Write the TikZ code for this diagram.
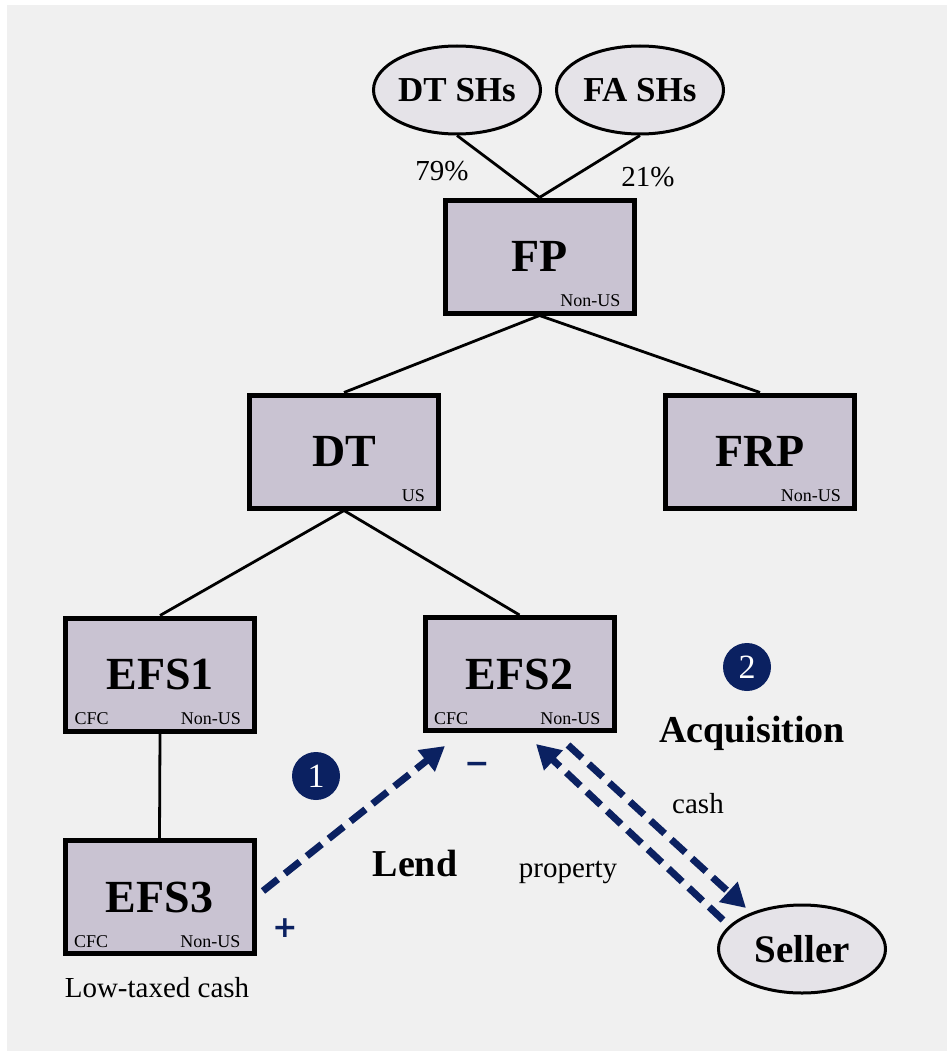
\documentclass[tikz,border=0pt]{standalone}
\usepackage{fontspec}
\setmainfont{Liberation Serif}
\newfontfamily\signfont{DejaVu Sans}
\usetikzlibrary{shapes.geometric,arrows.meta}
\definecolor{bg}{HTML}{F0F0F0}
\definecolor{boxfill}{HTML}{C9C3D2}
\definecolor{ovalfill}{HTML}{E5E3E8}
\definecolor{navy}{HTML}{0B2161}
\begin{document}
\begin{tikzpicture}[x=1pt,y=-1pt,
  entity/.style={draw=black,line width=5pt,fill=boxfill,minimum width=189pt,
    minimum height=113pt,inner sep=0pt,font=\fontsize{46}{50}\selectfont\bfseries},
  holder/.style={ellipse,draw=black,line width=3pt,fill=ovalfill,minimum width=167pt,
    minimum height=88pt,inner sep=0pt,font=\fontsize{35}{38}\selectfont\bfseries},
  tag/.style={font=\fontsize{18}{20}\selectfont,inner sep=0pt},
  link/.style={line width=2.8pt,draw=black},
  flow/.style={draw=navy,line width=7pt,dash pattern=on 19pt off 9pt,
    -{Triangle[length=24pt,width=26pt]}},
  badge/.style={circle,fill=navy,minimum size=48pt,inner sep=0pt,text=white,
    font=\fontsize{34}{36}\selectfont},
  note/.style={font=\fontsize{29}{32}\selectfont,inner sep=0pt,anchor=base},
  bignote/.style={font=\fontsize{38}{40}\selectfont\bfseries,inner sep=0pt,anchor=base},
  sign/.style={text=navy,font=\signfont\bfseries\fontsize{30}{32}\selectfont,inner sep=0pt}
]
% canvas
\useasboundingbox (0,0) rectangle (947,1051);
\fill[bg] (7,5) rectangle (947,1051);

% shareholders
\node[holder] (dtsh) at (457,90) {DT SHs};
\node[holder] (fash) at (640,90) {FA SHs};

% entities
\node[entity] (fp)   at (539.5,256.5) {FP};
\node[entity] (dt)   at (344,451.5)   {DT};
\node[entity] (frp)  at (760,451.5)   {FRP};
\node[entity] (efs1) at (160,674.5)   {EFS1};
\node[entity] (efs2) at (519.5,674)   {EFS2};
\node[entity] (efs3) at (159.5,897)   {EFS3};
\node[holder,font=\fontsize{39}{42}\selectfont\bfseries] (seller) at (802,949) {Seller};

% jurisdiction tags
\node[tag,anchor=base east] (fptag)  at ([xshift=-16pt,yshift=9pt]fp.south east)  {Non-US};
\node[tag,anchor=base east] (dttag)  at ([xshift=-16pt,yshift=9pt]dt.south east)  {US};
\node[tag,anchor=base east] (frptag) at ([xshift=-16pt,yshift=9pt]frp.south east) {Non-US};
\node[tag,anchor=base east] (e1tag)  at ([xshift=-16pt,yshift=9pt]efs1.south east) {Non-US};
\node[tag,anchor=base west] (e1cfc)  at ([xshift=11.5pt,yshift=9pt]efs1.south west) {CFC};
\node[tag,anchor=base east] (e2tag)  at ([xshift=-16pt,yshift=9pt]efs2.south east) {Non-US};
\node[tag,anchor=base west] (e2cfc)  at ([xshift=11.5pt,yshift=9pt]efs2.south west) {CFC};
\node[tag,anchor=base east] (e3tag)  at ([xshift=-16pt,yshift=9pt]efs3.south east) {Non-US};
\node[tag,anchor=base west] (e3cfc)  at ([xshift=11.5pt,yshift=9pt]efs3.south west) {CFC};

% ownership lines
\draw[link] (dtsh.south) -- (fp.north);
\draw[link] (fash.south) -- (fp.north);
\draw[link] (fp.south) -- (dt.north);
\draw[link] (fp.south) -- (frp.north);
\draw[link] (dt.south) -- (efs1.north);
\draw[link] (dt.south) -- (efs2.north);
\draw[link] (efs1.south) -- (efs3.north);

% ownership percentages
\node[note] (p79) at (442,180) {79\%};
\node[note] (p21) at (648,186) {21\%};

% step 1: loan from EFS3 to EFS2
\coordinate (lendfrom) at (263,891);
\coordinate (lendto)   at (445,746);
\draw[flow] (lendfrom) -- (lendto);
\node[badge] (b1) at (316,776) {1};
\node[bignote] (lend) at (415,876) {Lend};
\node[sign] (plus)  at (285,928) {+};
\node[sign] (minus) at (477,768) {−};

% step 2: acquisition from the seller
\coordinate (propfrom) at (723,920);
\coordinate (propto)   at (536,744);
\coordinate (cashfrom) at (568,745);
\coordinate (cashto)   at (746,908);
\draw[flow] (propfrom) -- (propto);
\draw[flow] (cashfrom) -- (cashto);
\node[badge] (b2) at (747,667) {2};
\node[bignote] (acq) at (752,742) {Acquisition};
\node[note] (prop) at (568,877) {property};
\node[note] (cash) at (698,813) {cash};

\node[note] (ltc) at (157,997) {Low-taxed cash};
\end{tikzpicture}
\end{document}
